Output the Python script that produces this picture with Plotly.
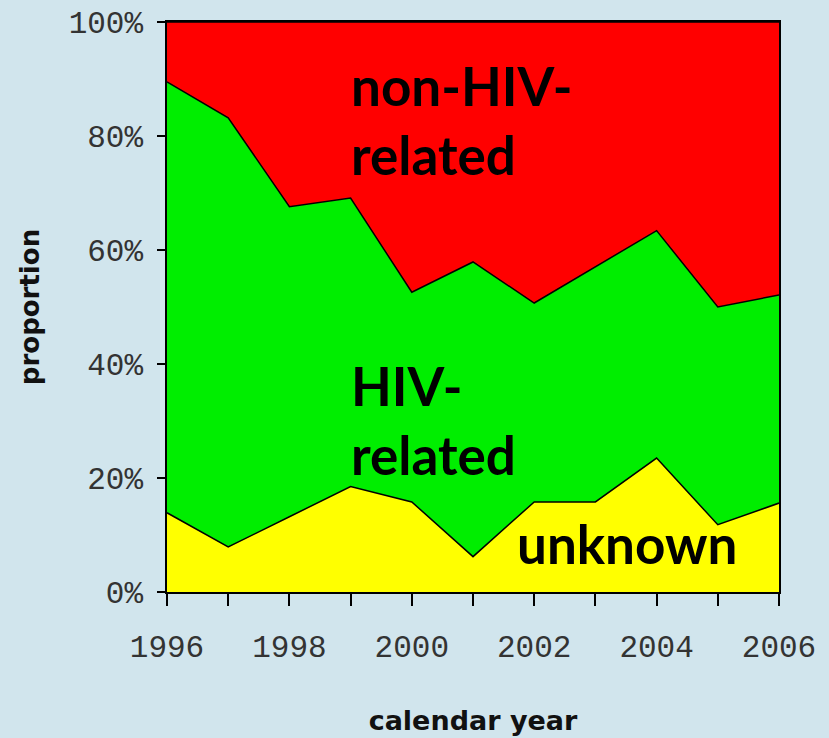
import plotly.graph_objects as go

years = list(range(1996, 2007))
# shares per year, in percent
unknown = [13.9, 7.9, 13.2, 18.5, 15.8, 6.2, 15.8, 15.8, 23.5, 11.8, 15.6]
hiv_related = [75.6, 75.3, 54.4, 50.6, 36.8, 51.7, 34.9, 41.2, 39.9, 38.2, 36.5]
non_hiv_related = [10.5, 16.8, 32.4, 30.9, 47.4, 42.1, 49.3, 43.0, 36.6, 50.0, 47.9]

year_labels = [str(y) if y % 2 == 0 else "" for y in years]
pct_ticks = [0, 20, 40, 60, 80, 100]
pct_labels = [f"{v}%" for v in pct_ticks]

bg = "#d1e5ed"
tick_font = dict(family="Liberation Mono, monospace", size=31, color="#333")

fig = go.Figure()
for name, vals, col in [("unknown", unknown, "#ffff00"),
                        ("HIV-related", hiv_related, "#00ee00"),
                        ("non-HIV-related", non_hiv_related, "#ff0000")]:
    fig.add_trace(go.Scatter(x=years, y=vals, name=name, stackgroup="one",
                             mode="lines", line=dict(color="black", width=1.5),
                             fillcolor=col))

big = dict(family="Lato, sans-serif", size=53, color="black")
fig.add_annotation(x=1998.97, y=82.8, xref="x", yref="y", text="<b>non-HIV-<br>related</b>",
                   showarrow=False, xanchor="left", yanchor="middle", align="left", font=big)
fig.add_annotation(x=1998.97, y=30.1, xref="x", yref="y", text="<b>HIV-<br>related</b>",
                   showarrow=False, xanchor="left", yanchor="middle", align="left", font=big)
fig.add_annotation(x=2001.69, y=8.5, xref="x", yref="y", text="<b>unknown</b>",
                   showarrow=False, xanchor="left", yanchor="middle", align="left", font=big)

fig.update_layout(
    width=829, height=738,
    margin=dict(l=167, r=50, t=22, b=146),
    paper_bgcolor=bg, plot_bgcolor=bg,
    showlegend=False,
)
fig.update_xaxes(range=[1996, 2006], tickvals=years, ticktext=year_labels,
                 ticks="outside", ticklen=12, tickcolor="black", tickwidth=1.5,
                 showline=True, linecolor="black", linewidth=1.5, mirror=True,
                 showgrid=False, zeroline=False, tickfont=tick_font,
                 ticklabelstandoff=14, automargin=False,
                 title=dict(text="<b>calendar year</b>", standoff=46,
                            font=dict(family="DejaVu Sans, sans-serif", size=27, color="#111")))
fig.update_yaxes(range=[0, 100], tickvals=pct_ticks, ticktext=pct_labels,
                 ticks="outside", ticklen=8, tickcolor="black", tickwidth=1.5,
                 showline=True, linecolor="black", linewidth=1.5, mirror=True,
                 showgrid=False, zeroline=False, tickfont=tick_font,
                 ticklabelstandoff=8, automargin=False,
                 title=dict(text="<b>proportion</b>", standoff=22,
                            font=dict(family="DejaVu Sans, sans-serif", size=26, color="#111")))

fig.write_html("out.html", config={"displayModeBar": False}, post_script=(
    "document.body.style.margin='0';"
    f"document.body.style.background='{bg}';"))
